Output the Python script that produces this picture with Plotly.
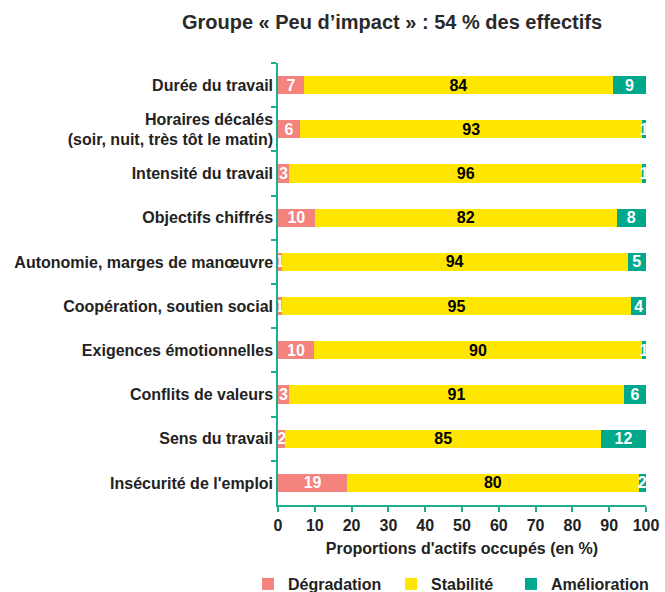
import plotly.graph_objects as go

categories = [
    "Durée du travail",
    "Horaires décalés<br>(soir, nuit, très tôt le matin)",
    "Intensité du travail",
    "Objectifs chiffrés",
    "Autonomie, marges de manœuvre",
    "Coopération, soutien social",
    "Exigences émotionnelles",
    "Conflits de valeurs",
    "Sens du travail",
    "Insécurité de l'emploi",
]
# printed (rounded) labels
degradation_lbl = [7, 6, 3, 10, 1, 1, 10, 3, 2, 19]
stabilite_lbl = [84, 93, 96, 82, 94, 95, 90, 91, 85, 80]
amelioration_lbl = [9, 1, 1, 8, 5, 4, 1, 6, 12, 2]
# bar lengths (segments sum to 100)
degradation = [7, 6, 3, 10, 1, 1, 9.8, 3, 2, 18.8]
stabilite = [84, 93, 96, 82, 94, 95, 89.1, 91, 85.8, 79.2]
amelioration = [9, 1, 1, 8, 5, 4, 1.1, 6, 12.2, 2.0]
x_ticks = [0, 10, 20, 30, 40, 50, 60, 70, 80, 90, 100]

FONT = "Liberation Sans, Arial, sans-serif"
TEAL_AXIS = "#1BAF8F"
TXT = "#222222"

series = [
    ("Dégradation", degradation, degradation_lbl, "#F4827D", "white", "legend"),
    ("Stabilité", stabilite, stabilite_lbl, "#FFE600", "black", "legend2"),
    ("Amélioration", amelioration, amelioration_lbl, "#00A98C", "white", "legend3"),
]

fig = go.Figure()
for name, vals, lbls, col, tcol, leg in series:
    fig.add_trace(go.Bar(
        name=name, y=categories, x=vals, orientation="h",
        marker=dict(color=col, line=dict(width=0)),
        text=[str(v) for v in lbls], textposition="inside",
        insidetextanchor="middle", textangle=0, constraintext="none",
        textfont=dict(family=FONT, size=16, color=tcol, weight="bold"),
        cliponaxis=False, hoverinfo="skip", legend=leg,
    ))

def leg(xpix):
    return dict(
        xref="container", yref="container",
        x=xpix / 665, xanchor="left", y=1 - 584 / 592, yanchor="middle",
        orientation="h", itemwidth=30, bgcolor="rgba(0,0,0,0)",
        font=dict(family=FONT, size=16, color=TXT, weight="bold"),
    )

fig.update_layout(
    barmode="stack", bargap=0.59,
    width=665, height=592,
    margin=dict(l=278, r=19, t=63, b=87, autoexpand=False),
    paper_bgcolor="white", plot_bgcolor="white",
    font=dict(family=FONT, color=TXT),
    uniformtext=dict(minsize=16, mode="show"),
    title=dict(
        text="<b>Groupe « Peu d’impact » : 54 % des effectifs</b>",
        x=392 / 665, xanchor="center", y=1 - 22 / 592, yanchor="middle",
        font=dict(family=FONT, size=20, color="#2a2a2a"),
    ),
    xaxis=dict(
        range=[0, 100], tickvals=x_ticks, ticktext=[str(t) for t in x_ticks],
        showgrid=False, zeroline=False, automargin=False,
        showline=True, linecolor=TEAL_AXIS, linewidth=1.5,
        ticks="outside", ticklen=5, tickcolor=TEAL_AXIS, tickwidth=1.5,
        tickfont=dict(family=FONT, size=16, color=TXT, weight="bold"),
        title=dict(text="<b>Proportions d'actifs occupés (en %)</b>",
                   font=dict(family=FONT, size=16, color=TXT), standoff=10),
        fixedrange=True,
    ),
    yaxis=dict(
        categoryorder="array", categoryarray=categories, autorange="reversed",
        showgrid=False, zeroline=False, automargin=False,
        showline=True, linecolor=TEAL_AXIS, linewidth=1.5,
        ticks="outside", ticklen=5, tickcolor=TEAL_AXIS, tickwidth=1.5,
        tickson="boundaries",
        tickfont=dict(family=FONT, size=16, color=TXT, weight="bold"),
        fixedrange=True,
    ),
    legend=leg(248),
    legend2=leg(391),
    legend3=leg(511),
    showlegend=True,
)

fig.write_html(
    "out.html",
    config={"displayModeBar": False},
    post_script="document.body.style.margin='0';",
)
